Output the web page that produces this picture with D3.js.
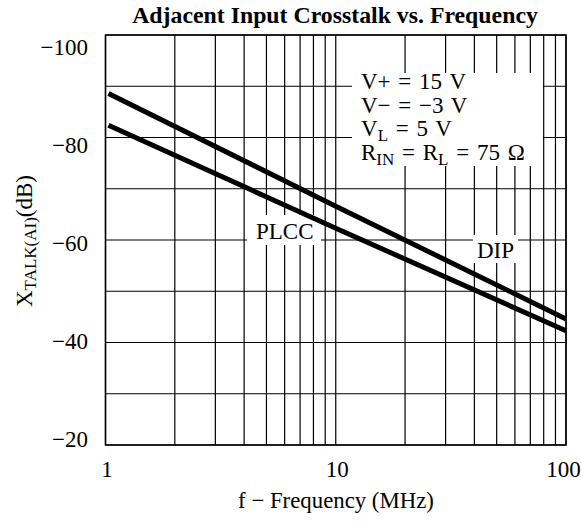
<!DOCTYPE html>
<html>
<head>
<meta charset="utf-8">
<script src="https://cdn.jsdelivr.net/npm/d3@7"></script>
<style>
  body { margin: 0; background: #fff; }
  svg { display: block; font-family: "Liberation Serif", "Times New Roman", serif; }
</style>
</head>
<body>
<svg id="chart" width="581" height="527"></svg>
<script>
// ---- data ----
const freqs = [1.03, 10, 100];            // MHz
const dipValues = [-88.6, -66.6, -44.6];   // dB
const plccValues = [-82.4, -62.3, -42.3];  // dB
const xTickLabels = [1, 10, 100];
const yTickLabels = [-100, -80, -60, -40, -20];
const xGrid = [1,2,3,4,5,6,7,8,9,10,20,30,40,50,60,70,80,90,100];
const yGrid = [-100,-90,-80,-70,-60,-50,-40,-30,-20];
const conditions = ["V+ = 15 V", "V− = −3 V", "VL", "RIN"];

const svg = d3.select("#chart");
const x = d3.scaleLog().domain([1, 100]).range([105.5, 566]);
const y = d3.scaleLinear().domain([-100, -20]).range([35, 445]);
const yLab = d3.scaleLinear().domain([-100, -20]).range([46, 438]);

// grid
const g = svg.append("g");
g.selectAll("line.v").data(xGrid).join("line")
  .attr("x1", d => x(d)).attr("x2", d => x(d))
  .attr("y1", y(-100)).attr("y2", y(-20))
  .attr("stroke", "#000").attr("stroke-width", 1.2);
g.selectAll("line.h").data(yGrid).join("line")
  .attr("x1", x(1)).attr("x2", x(100))
  .attr("y1", d => y(d)).attr("y2", d => y(d))
  .attr("stroke", "#000").attr("stroke-width", 1.2);
g.append("rect")
  .attr("x", x(1)).attr("y", y(-100))
  .attr("width", x(100) - x(1)).attr("height", y(-20) - y(-100))
  .attr("fill", "none").attr("stroke", "#000").attr("stroke-width", 1.5);

// white label boxes
svg.append("rect").attr("x", 352).attr("y", 73).attr("width", 191).attr("height", 93).attr("fill", "#fff");
svg.append("rect").attr("x", 247).attr("y", 215).attr("width", 74).attr("height", 30).attr("fill", "#fff");
svg.append("rect").attr("x", 473).attr("y", 235).attr("width", 45).attr("height", 28).attr("fill", "#fff");

// curves
const line = d3.line().x(d => x(d[0])).y(d => y(d[1]));
[dipValues, plccValues].forEach(vals => {
  svg.append("path")
    .datum(freqs.map((f, i) => [f, vals[i]]))
    .attr("d", line)
    .attr("fill", "none").attr("stroke", "#000").attr("stroke-width", 5);
});

// axes tick labels
const xAxis = svg.append("g").attr("transform", `translate(0,${y(-20)})`)
  .call(d3.axisBottom(x).tickValues(xTickLabels).tickSize(0).tickFormat(d3.format("d")));
xAxis.select(".domain").remove();
xAxis.selectAll("text").attr("y", 32).attr("dy", 0)
  .attr("dx", d => d === 100 ? -3 : 1)
  .attr("font-size", 23).attr("font-family", "Liberation Serif").attr("fill", "#000");

const yAxis = svg.append("g").attr("transform", "translate(88,0)")
  .call(d3.axisLeft(yLab).tickValues(yTickLabels).tickSize(0).tickPadding(0)
    .tickFormat(d => "\u2212" + Math.abs(d)));
yAxis.select(".domain").remove();
yAxis.selectAll("text").attr("dy", "0.35em")
  .attr("font-size", 23).attr("font-family", "Liberation Serif").attr("fill", "#000");

// title
svg.append("text").attr("x", 335).attr("y", 23).attr("text-anchor", "middle")
  .attr("font-size", 23.8).attr("font-weight", "bold").text("Adjacent Input Crosstalk vs. Frequency");

// x axis title
svg.append("text").attr("x", 336).attr("y", 508).attr("text-anchor", "middle")
  .attr("font-size", 22.8).text("f \u2212 Frequency (MHz)");

// y axis title
const yt = svg.append("text").attr("transform", "translate(32,241) rotate(-90)")
  .attr("text-anchor", "middle").attr("font-size", 23);
yt.append("tspan").text("X");
yt.append("tspan").attr("font-size", 17).attr("dy", 4).text("TALK(AI)");
yt.append("tspan").attr("dy", -4).text("(dB)");

// conditions
const cx = 361, cy0 = 89, step = 23.7;
const cond = svg.append("g").attr("font-size", 23).attr("word-spacing", 2);
cond.append("text").attr("x", cx).attr("y", cy0).text(conditions[0]);
cond.append("text").attr("x", cx).attr("y", cy0 + step).text(conditions[1]);
const t3 = cond.append("text").attr("x", cx).attr("y", cy0 + 2 * step);
t3.append("tspan").text("V");
t3.append("tspan").attr("font-size", 17).attr("dy", 5).text("L");
t3.append("tspan").attr("dy", -5).text(" = 5 V");
const t4 = cond.append("text").attr("x", cx).attr("y", cy0 + 3 * step);
t4.append("tspan").text("R");
t4.append("tspan").attr("font-size", 17).attr("dy", 5).text("IN");
t4.append("tspan").attr("dy", -5).text(" = R");
t4.append("tspan").attr("font-size", 17).attr("dy", 5).text("L");
t4.append("tspan").attr("dy", -5).text(" = 75 \u03A9");

// curve labels
svg.append("text").attr("x", 256).attr("y", 239).attr("font-size", 23).text("PLCC");
svg.append("text").attr("x", 477).attr("y", 258).attr("font-size", 23).text("DIP");
</script>
</body>
</html>
